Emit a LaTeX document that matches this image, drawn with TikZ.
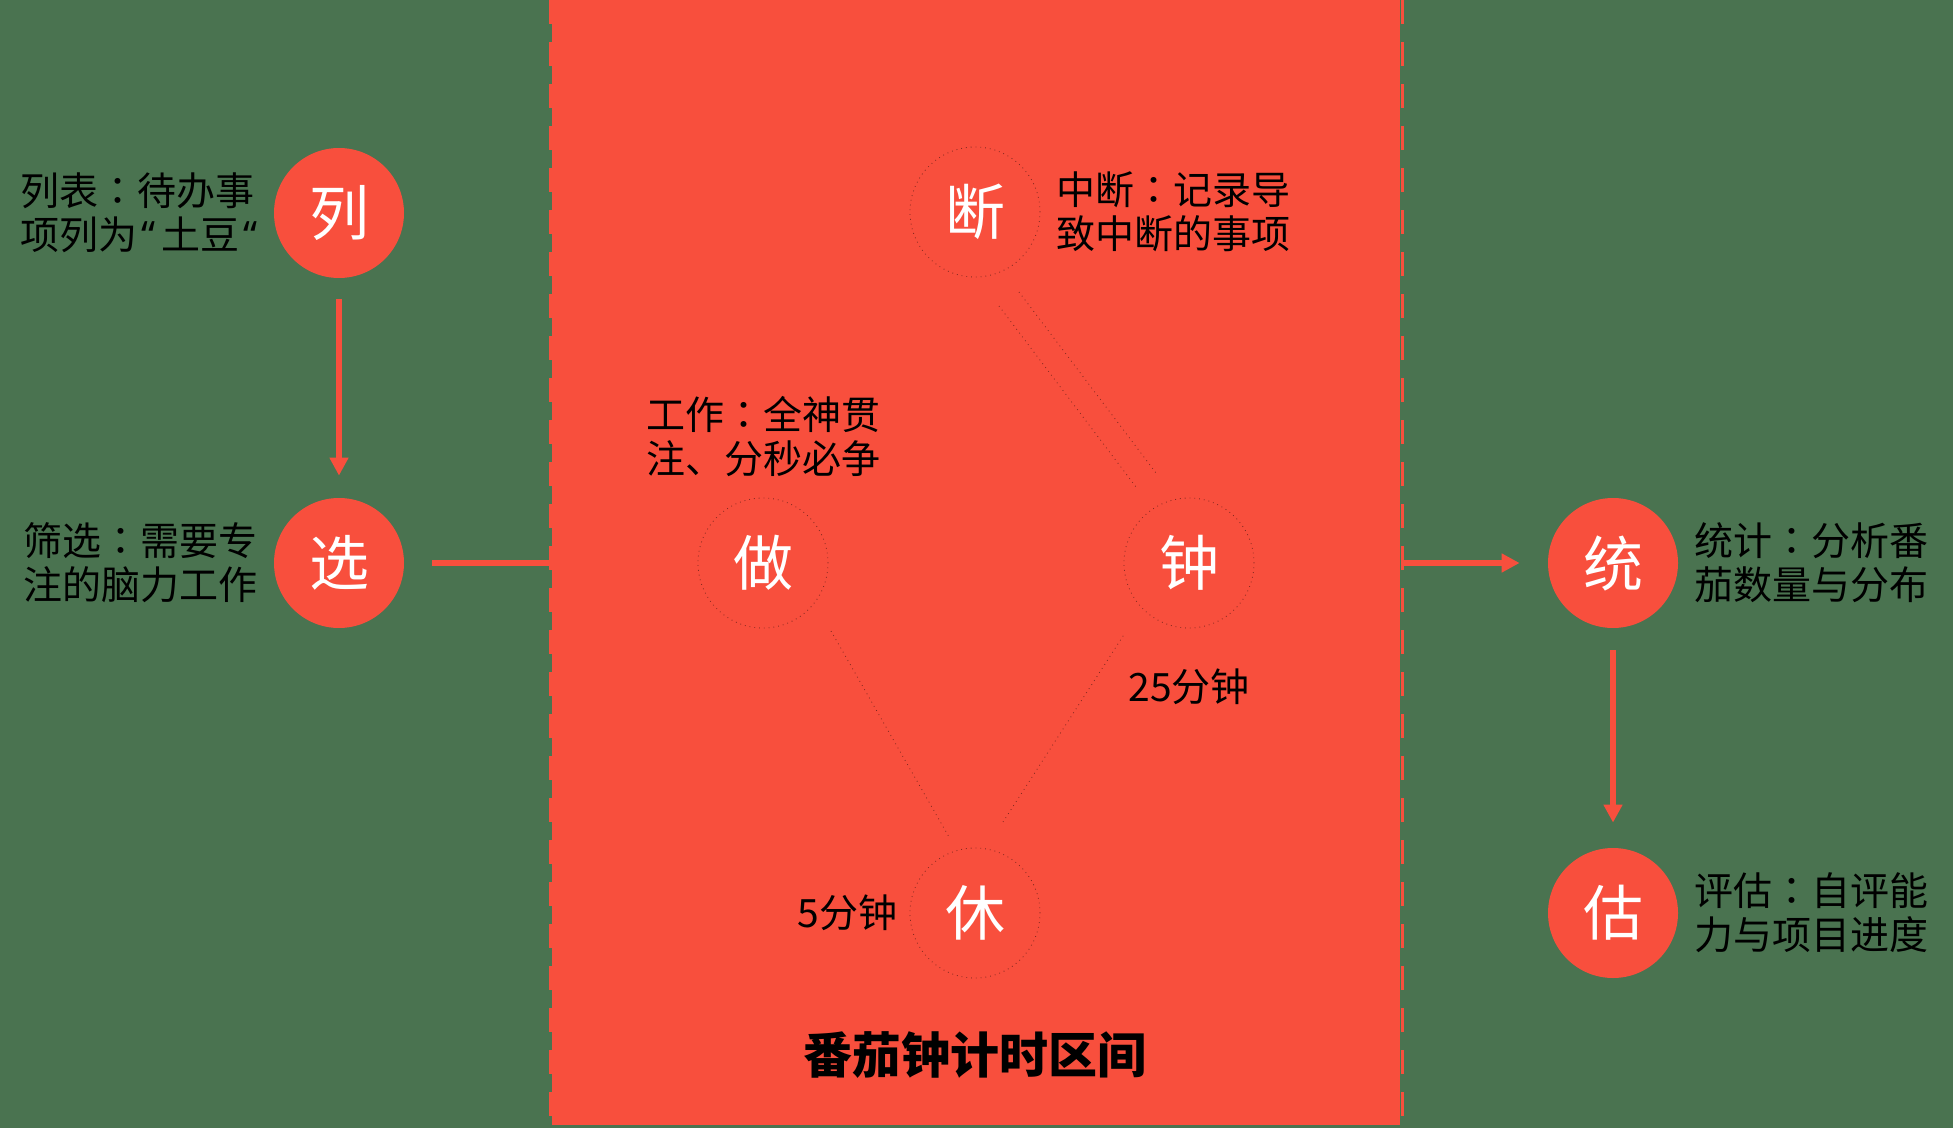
\documentclass[tikz,border=0pt]{standalone}
\usepackage{fontspec}
\setmainfont{Noto Sans CJK SC}
\newfontfamily\jpfont{Noto Sans CJK JP}
\newfontfamily\latinfont{Noto Sans}
\usetikzlibrary{arrows.meta,positioning}

\definecolor{bggreen}{HTML}{4A7350}
\definecolor{tomato}{HTML}{F84F3D}
\colorlet{faint}{tomato!50!black}

% centred full-width colon and narrow quote
\newcommand{\fwcolon}{{\jpfont ：}}
\newcommand{\nq}{\hspace{0.1em}{\latinfont “}\hspace{0.15em}}

\begin{document}
\begin{tikzpicture}[
    x=0.5pt, y=-0.5pt,
    node distance=8pt,
    stepdot/.style={circle, fill=tomato, minimum size=65pt, inner sep=0pt,
                    text=white, font=\fontsize{30pt}{30pt}\selectfont},
    ghostdot/.style={stepdot, draw=faint, dotted, line width=0.4pt},
    desc/.style={align=left, inner sep=0pt,
                 font=\fontsize{19.5pt}{22pt}\selectfont},
    redline/.style={draw=tomato, line width=3pt},
    redarrow/.style={redline, -{Triangle[length=9pt, width=9pt]}},
    ghostline/.style={draw=faint, dotted, line width=0.4pt},
    titletext/.style={font=\fontsize{24.5pt}{26pt}\selectfont\bfseries,
                      inner sep=0pt},
  ]
    % canvas
    \fill[bggreen] (0,0) rectangle (1953,1128);
    \useasboundingbox (0,0) rectangle (1953,1128);

    % Pomodoro zone
    \node[fill=tomato, inner sep=0pt, minimum width=424pt,
          minimum height=562.5pt, anchor=north west] (zone) at (552,0) {};
    \draw[tomato, line width=1.5pt, dash pattern=on 12pt off 9pt]
          ([xshift=-0.75pt]zone.north west) -- ([xshift=-0.75pt]zone.south west);
    \draw[tomato, line width=1.5pt, dash pattern=on 12pt off 9pt]
          ([xshift=0.75pt]zone.north east) -- ([xshift=0.75pt]zone.south east);

    % Before: list and filter
    \node[stepdot] (lie) at (339,213) {列};
    \node[stepdot] (xuan) at (339,563) {选};
    \node[desc, left=of lie] (lielbl) {列表\fwcolon 待办事\\项列为\nq 土豆\nq};
    \node[desc, left=of xuan] (xuanlbl) {筛选\fwcolon 需要专\\注的脑力工作};
    \draw[redarrow, shorten <=10.5pt, shorten >=11pt] (lie) -- (xuan);
    \draw[redline, shorten <=14pt] (xuan.east) -- (xuan.east -| zone.west);

    % Inside the zone
    \node[ghostdot] (duan) at (975,212) {断};
    \node[ghostdot] (zuo) at (763,563) {做};
    \node[ghostdot] (zhong) at (1189,563) {钟};
    \node[ghostdot] (xiu) at (975,913) {休};
    \node[desc, right=of duan] (duanlbl) {中断\fwcolon 记录导\\致中断的事项};
    \node[desc, above=10pt of zuo] (zuolbl) {工作\fwcolon 全神贯\\注、分秒必争};
    \node[desc, below=20pt of zhong] (longlbl) {25分钟};
    \node[desc, left=6pt of xiu] (shortlbl) {5分钟};
    \draw[ghostline] ([shift={(44,80)}]duan.center)
          -- ([shift={(-33,-90)}]zhong.center);
    \draw[ghostline] ([shift={(24,94)}]duan.center)
          -- ([shift={(-53,-76)}]zhong.center);
    \draw[ghostline] ([shift={(68,68)}]zuo.center)
          -- ([shift={(-26,-76)}]xiu.center);
    \draw[ghostline] ([shift={(28,-91)}]xiu.center)
          -- ([shift={(-64,70)}]zhong.center);
    \node[titletext] (title) at (975,1055) {番茄钟计时区间};

    % After: statistics and estimate
    \node[stepdot] (tong) at (1613,563) {统};
    \node[stepdot] (gu) at (1613,913) {估};
    \node[desc, right=of tong] (tonglbl) {统计\fwcolon 分析番\\茄数量与分布};
    \node[desc, right=of gu] (gulbl) {评估\fwcolon 自评能\\力与项目进度};
    \draw[redarrow, shorten >=14pt] (tong.west -| zone.east) -- (tong.west);
    \draw[redarrow, shorten <=11pt, shorten >=12.5pt] (tong) -- (gu);
\end{tikzpicture}
\end{document}
